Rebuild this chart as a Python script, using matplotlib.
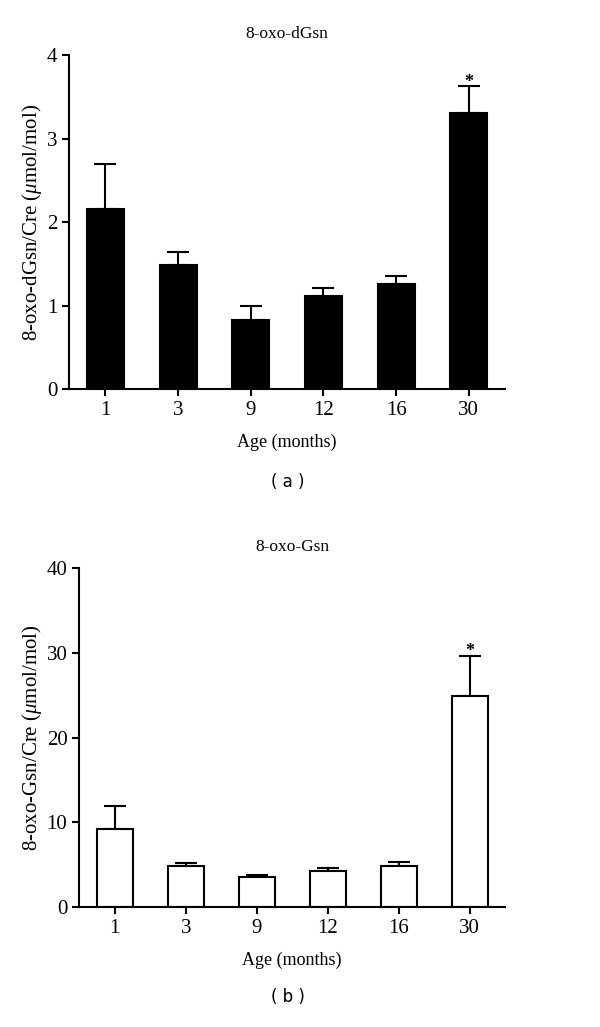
import matplotlib
matplotlib.use("Agg")
import matplotlib.pyplot as plt

plt.rcParams['font.family'] = ['Liberation Serif', 'DejaVu Serif']
plt.rcParams['mathtext.fontset'] = 'custom'
plt.rcParams['mathtext.it'] = 'Liberation Serif:italic'
plt.rcParams['mathtext.rm'] = 'Liberation Serif'

ages = ['1', '3', '9', '12', '16', '30']

dgsn_mean = [2.16, 1.48, 0.83, 1.11, 1.26, 3.30]
dgsn_err = [0.54, 0.16, 0.17, 0.10, 0.09, 0.33]

gsn_mean = [9.2, 4.8, 3.5, 4.3, 4.8, 24.9]
gsn_err = [2.7, 0.36, 0.24, 0.36, 0.55, 4.7]


def draw_panel(ax, means, errs, color, ymax, step, title, ylabel, star_y):
    x = range(len(means))
    ax.bar(x, means, width=0.51, color=color, edgecolor='black', linewidth=1.5, zorder=2)
    ax.errorbar(x, means, yerr=[[0] * len(errs), errs], fmt='none', ecolor='black',
                elinewidth=1.5, capsize=8, capthick=1.5, zorder=1)
    ax.set_xlim(-0.5, len(means) - 0.5)
    ax.set_ylim(0, ymax)
    ax.set_yticks(range(0, ymax + 1, step))
    ax.set_xticks(list(x))
    ax.set_xticklabels(ages)
    for s in ['top', 'right']:
        ax.spines[s].set_visible(False)
    for s in ['left', 'bottom']:
        ax.spines[s].set_linewidth(1.5)
    ax.tick_params(direction='out', width=1.5, length=5, labelsize=15)
    ax.set_title(title, fontsize=12.5, pad=12)
    ax.set_xlabel('Age (months)', fontsize=13, labelpad=10)
    ax.set_ylabel(ylabel, fontsize=15, labelpad=2)
    ax.text(5, star_y, '*', ha='center', va='center', fontsize=13, fontweight='bold')


fig = plt.figure(figsize=(6, 10.27), dpi=100)

ax1 = fig.add_axes([0.115, 0.6212, 0.727, 0.3252])
draw_panel(ax1, dgsn_mean, dgsn_err, 'black', 4, 1, '8-oxo-dGsn',
           r'8-oxo-dGsn/Cre ($\mu$mol/mol)', 3.67)

ax2 = fig.add_axes([0.132, 0.1168, 0.71, 0.3301])
draw_panel(ax2, gsn_mean, gsn_err, 'white', 40, 10, '8-oxo-Gsn',
           r'8-oxo-Gsn/Cre ($\mu$mol/mol)', 30.1)

fig.text(0.48, 0.5307, '( a )', ha='center', va='center', fontsize=12, family='DejaVu Sans')
fig.text(0.48, 0.0292, '( b )', ha='center', va='center', fontsize=12, family='DejaVu Sans')

fig.savefig('out.png', dpi=100, facecolor='white')
